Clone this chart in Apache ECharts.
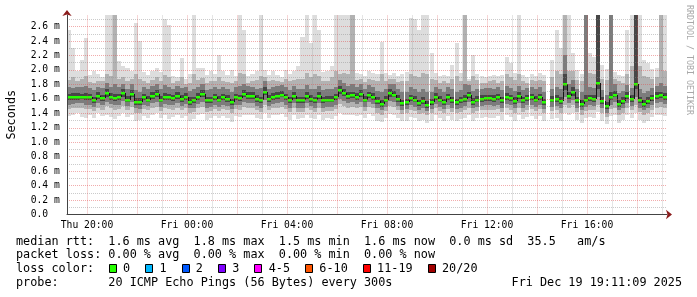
<!DOCTYPE html>
<html><head><meta charset="utf-8">
<script src="https://cdn.jsdelivr.net/npm/echarts@6/dist/echarts.min.js"></script>
<style>html,body{margin:0;padding:0;background:#fff}#c{width:697px;height:297px}</style>
</head><body><div id="c"></div>
<script>
// time axis: hours since Thu 00:00, one step = 10 minutes
const START_HOUR = 19.2;
const STEP_HOURS = 1 / 6;
const Y_MAX = 2.76;

// median rtt (ms) per step
const median = [
1.62,1.63,1.63,1.63,1.63,1.62,1.58,1.64,1.61,1.68,
1.63,1.61,1.62,1.68,1.59,1.67,1.56,1.55,1.62,1.59,
1.64,1.67,1.59,1.63,1.62,1.61,1.64,1.60,1.63,1.56,
1.58,1.63,1.67,1.58,1.58,1.62,1.59,1.62,1.60,1.55,
1.62,1.61,1.67,1.64,1.64,1.60,1.58,1.70,1.60,1.63,
1.64,1.66,1.62,1.58,1.64,1.58,1.58,1.64,1.60,1.58,
1.64,1.58,1.59,1.59,1.62,1.72,1.68,1.64,1.65,1.63,
1.67,1.59,1.65,1.63,1.57,1.53,1.59,1.68,1.66,1.60,
1.54,1.55,1.61,1.59,1.54,1.57,1.52,1.55,1.63,1.59,
1.55,1.62,1.58,1.55,1.58,1.60,1.65,1.56,1.59,1.60,
1.61,1.61,1.60,1.62,1.58,1.63,1.61,1.57,1.64,1.58,
1.61,1.62,1.59,1.62,1.55,null,1.59,1.60,1.57,1.80,
1.64,1.70,1.58,1.53,1.59,1.61,1.60,1.82,1.57,1.50,
1.62,1.66,1.53,1.57,1.64,1.60,1.81,1.58,1.53,1.57,
1.61,1.64,1.65,1.63];

// smoke: lowest / highest ping
const low1 = [
1.36,1.38,1.40,1.35,1.33,1.37,1.34,1.40,1.36,1.38,
1.35,1.32,1.36,1.40,1.35,1.37,1.30,1.31,1.36,1.34,
1.38,1.40,1.33,1.37,1.32,1.35,1.38,1.33,1.36,1.30,
1.32,1.37,1.39,1.31,1.34,1.36,1.33,1.36,1.34,1.28,
1.36,1.35,1.38,1.37,1.38,1.33,1.32,1.40,1.34,1.37,
1.38,1.39,1.35,1.31,1.38,1.32,1.33,1.37,1.33,1.32,
1.38,1.31,1.33,1.32,1.36,1.40,1.38,1.37,1.38,1.36,
1.38,1.33,1.39,1.36,1.30,1.28,1.33,1.39,1.38,1.33,
1.29,1.30,1.35,1.33,1.29,1.31,1.27,1.30,1.37,1.33,
1.30,1.36,1.31,1.30,1.32,1.33,1.38,1.30,1.33,1.34,
1.35,1.34,1.33,1.36,1.31,1.37,1.35,1.30,1.38,1.32,
1.35,1.36,1.32,1.36,1.30,null,1.32,1.34,1.30,1.40,
1.37,1.40,1.31,1.27,1.33,1.35,1.33,1.42,1.30,1.25,
1.36,1.38,1.27,1.31,1.37,1.33,1.40,1.31,1.27,1.30,
1.35,1.38,1.37,1.36];
const high1 = [
2.55,2.30,1.98,2.14,2.44,1.93,1.98,1.95,1.90,2.76,
2.76,2.76,2.12,2.05,2.02,1.98,2.65,2.40,1.97,1.93,
1.98,2.03,1.97,2.70,2.62,1.91,1.90,2.16,1.88,1.95,
2.76,2.03,2.03,1.93,1.99,1.95,2.20,1.99,1.93,2.00,
1.92,2.76,2.55,1.91,1.95,1.98,2.76,2.00,1.93,1.99,
1.93,1.90,2.00,1.95,1.98,2.05,2.45,2.76,2.37,2.76,
2.55,1.97,1.98,2.05,2.76,2.76,2.76,2.76,2.76,1.96,
1.95,1.91,1.99,1.96,1.95,2.38,1.96,1.93,1.96,1.91,
1.95,1.97,2.72,2.70,2.55,2.76,2.76,2.23,1.96,1.91,
1.93,1.91,2.07,2.37,1.96,2.76,1.88,2.21,1.95,1.91,
1.90,1.91,1.93,1.91,1.93,2.18,2.10,1.96,2.76,1.93,
1.90,1.95,1.92,1.96,1.93,null,2.14,2.55,2.30,2.76,
2.76,2.23,2.00,1.95,2.76,2.23,2.18,2.76,2.07,2.01,
2.76,1.97,1.93,1.91,2.55,2.76,2.76,2.76,2.14,2.09,
2.01,2.02,2.76,2.76];
// smoke: 3rd lowest / 3rd highest ping
const low2 = [
1.46,1.47,1.48,1.47,1.46,1.46,1.43,1.48,1.45,1.50,
1.47,1.45,1.46,1.50,1.44,1.49,1.41,1.40,1.46,1.44,
1.48,1.49,1.43,1.47,1.46,1.45,1.48,1.44,1.47,1.41,
1.42,1.47,1.49,1.42,1.43,1.46,1.43,1.46,1.44,1.40,
1.46,1.45,1.49,1.48,1.48,1.44,1.42,1.52,1.44,1.47,
1.48,1.49,1.46,1.42,1.48,1.42,1.42,1.48,1.44,1.42,
1.48,1.42,1.43,1.43,1.46,1.53,1.50,1.48,1.49,1.47,
1.49,1.43,1.49,1.47,1.41,1.38,1.43,1.50,1.49,1.44,
1.39,1.40,1.45,1.43,1.39,1.41,1.37,1.40,1.47,1.43,
1.40,1.46,1.42,1.40,1.42,1.44,1.48,1.41,1.43,1.44,
1.45,1.45,1.44,1.46,1.42,1.47,1.45,1.41,1.48,1.42,
1.45,1.46,1.43,1.46,1.40,null,1.43,1.44,1.41,1.52,
1.48,1.51,1.42,1.38,1.43,1.45,1.44,1.52,1.41,1.35,
1.46,1.48,1.38,1.41,1.48,1.44,1.52,1.42,1.38,1.41,
1.45,1.48,1.49,1.47];
const high2 = [
1.86,1.90,1.84,1.88,1.92,1.83,1.82,1.85,1.84,1.95,
1.92,2.76,1.88,1.90,1.84,1.87,1.95,1.88,1.85,1.82,
1.86,1.90,1.84,1.93,1.90,1.82,1.84,1.90,1.80,1.82,
1.95,1.86,1.89,1.82,1.85,1.84,1.90,1.85,1.83,1.82,
1.84,1.96,1.94,1.82,1.85,1.86,1.92,1.90,1.84,1.86,
1.84,1.83,1.87,1.85,1.86,1.88,1.87,1.96,1.90,1.94,
1.92,1.84,1.85,1.90,1.98,1.95,1.96,1.94,2.76,1.86,
1.88,1.83,1.87,1.86,1.84,1.95,1.84,1.88,1.87,1.83,
1.84,1.85,1.95,1.92,1.90,1.96,1.95,1.88,1.86,1.82,
1.84,1.82,1.88,1.92,1.84,2.76,1.84,1.92,1.86,1.82,
1.82,1.84,1.86,1.82,1.85,1.94,1.90,1.86,1.95,1.84,
1.82,1.86,1.84,1.86,1.84,null,1.90,1.98,1.94,2.76,
1.98,1.98,1.86,1.84,2.76,1.96,1.94,2.76,1.88,1.86,
2.76,1.88,1.84,1.82,1.95,2.05,2.76,2.05,1.92,1.90,
1.88,1.90,2.76,1.98];
// smoke: 6th lowest / 6th highest ping
const low3 = [
1.52,1.53,1.54,1.54,1.52,1.52,1.49,1.54,1.51,1.56,
1.53,1.51,1.52,1.57,1.50,1.56,1.47,1.46,1.52,1.50,
1.54,1.56,1.49,1.53,1.52,1.51,1.54,1.50,1.53,1.47,
1.48,1.53,1.56,1.48,1.49,1.52,1.49,1.52,1.50,1.46,
1.52,1.51,1.56,1.54,1.54,1.50,1.48,1.59,1.50,1.53,
1.54,1.55,1.52,1.48,1.54,1.48,1.48,1.54,1.50,1.48,
1.54,1.48,1.49,1.49,1.52,1.60,1.57,1.54,1.55,1.53,
1.56,1.49,1.55,1.53,1.47,1.44,1.49,1.57,1.56,1.50,
1.45,1.46,1.51,1.49,1.45,1.47,1.43,1.46,1.53,1.49,
1.46,1.52,1.48,1.46,1.48,1.50,1.55,1.47,1.49,1.50,
1.51,1.51,1.50,1.52,1.48,1.53,1.51,1.47,1.54,1.48,
1.51,1.52,1.49,1.52,1.46,null,1.49,1.50,1.47,1.62,
1.54,1.58,1.48,1.44,1.49,1.51,1.50,1.62,1.47,1.41,
1.52,1.55,1.44,1.47,1.54,1.50,1.62,1.48,1.44,1.47,
1.51,1.54,1.55,1.53];
const high3 = [
1.76,1.75,1.77,1.76,1.78,1.75,1.72,1.77,1.75,1.82,
1.77,1.80,1.76,1.81,1.73,1.80,1.72,1.70,1.76,1.73,
1.78,1.80,1.73,1.79,1.77,1.74,1.78,1.75,1.76,1.71,
1.74,1.76,1.80,1.72,1.73,1.76,1.74,1.76,1.74,1.70,
1.76,1.78,1.81,1.78,1.77,1.74,1.75,1.84,1.74,1.77,
1.78,1.79,1.76,1.72,1.78,1.73,1.74,1.79,1.74,1.74,
1.78,1.72,1.73,1.74,1.76,1.86,1.82,1.78,1.80,1.77,
1.80,1.73,1.79,1.77,1.71,1.70,1.73,1.81,1.80,1.74,
1.69,1.70,1.76,1.74,1.69,1.73,1.69,1.70,1.77,1.73,
1.69,1.76,1.73,1.70,1.72,1.80,1.79,1.71,1.73,1.74,
1.75,1.75,1.74,1.76,1.72,1.78,1.75,1.71,1.78,1.72,
1.75,1.76,1.73,1.76,1.70,null,1.74,1.76,1.74,2.20,
1.80,1.86,1.74,1.69,2.76,1.76,1.75,2.76,1.72,1.66,
2.76,1.80,1.68,1.71,1.79,1.75,2.76,1.73,1.68,1.71,
1.75,1.78,1.82,1.78];
// smoke: 9th lowest / 9th highest ping
const low4 = [
1.58,1.59,1.59,1.60,1.59,1.58,1.54,1.60,1.57,1.63,
1.59,1.57,1.58,1.63,1.55,1.62,1.52,1.51,1.58,1.55,
1.60,1.62,1.55,1.59,1.58,1.57,1.60,1.56,1.59,1.52,
1.54,1.59,1.62,1.54,1.54,1.58,1.55,1.58,1.56,1.51,
1.58,1.57,1.62,1.60,1.60,1.56,1.54,1.65,1.56,1.59,
1.60,1.62,1.58,1.54,1.60,1.54,1.54,1.60,1.56,1.54,
1.60,1.54,1.55,1.55,1.58,1.67,1.64,1.60,1.61,1.59,
1.63,1.55,1.61,1.59,1.53,1.49,1.55,1.63,1.62,1.56,
1.50,1.51,1.57,1.55,1.50,1.53,1.48,1.51,1.59,1.55,
1.51,1.58,1.54,1.51,1.54,1.56,1.61,1.52,1.55,1.56,
1.57,1.57,1.56,1.58,1.54,1.59,1.57,1.53,1.60,1.54,
1.57,1.58,1.55,1.58,1.51,null,1.55,1.56,1.53,1.72,
1.60,1.64,1.54,1.49,1.55,1.57,1.56,1.74,1.53,1.46,
1.58,1.62,1.49,1.53,1.60,1.56,1.73,1.54,1.49,1.53,
1.57,1.60,1.61,1.59];
const high4 = [
1.67,1.68,1.68,1.67,1.68,1.67,1.63,1.69,1.66,1.73,
1.68,1.67,1.67,1.73,1.64,1.72,1.61,1.61,1.67,1.64,
1.69,1.72,1.64,1.68,1.67,1.66,1.69,1.65,1.68,1.62,
1.63,1.68,1.72,1.63,1.63,1.67,1.64,1.67,1.65,1.60,
1.67,1.66,1.72,1.69,1.69,1.65,1.63,1.76,1.65,1.68,
1.69,1.71,1.67,1.63,1.69,1.63,1.63,1.69,1.65,1.63,
1.69,1.63,1.64,1.64,1.67,1.78,1.73,1.69,1.70,1.68,
1.72,1.64,1.70,1.68,1.62,1.58,1.64,1.73,1.71,1.65,
1.59,1.60,1.66,1.64,1.59,1.62,1.57,1.60,1.68,1.64,
1.60,1.67,1.63,1.60,1.63,1.66,1.70,1.61,1.64,1.65,
1.66,1.66,1.65,1.67,1.63,1.68,1.66,1.62,1.69,1.63,
1.66,1.67,1.64,1.67,1.60,null,1.64,1.65,1.62,1.95,
1.69,1.76,1.63,1.58,1.66,1.66,1.65,2.76,1.62,1.55,
1.70,1.71,1.58,1.62,1.69,1.65,2.76,1.63,1.58,1.62,
1.66,1.69,1.70,1.68];

// axis ticks / grid (hours since Thu 00:00, ms)
const xLabelValues = [20, 24, 28, 32, 36, 40];
const xLabelText = ['Thu 20:00', 'Fri 00:00', 'Fri 04:00', 'Fri 08:00', 'Fri 12:00', 'Fri 16:00'];
const xMajorGrid = [20, 22, 24, 26, 28, 30, 32, 34, 36, 38, 40, 42];
const xMinorGrid = [21, 23, 25, 27, 29, 31, 33, 35, 37, 39, 41, 43];
const yMajorGrid = [0.2, 0.4, 0.6, 0.8, 1.0, 1.2, 1.4, 1.6, 1.8, 2.0, 2.2, 2.4, 2.6];
const yMinorGrid = [0.1, 0.3, 0.5, 0.7, 0.9, 1.1, 1.3, 1.5, 1.7, 1.9, 2.1, 2.3, 2.5, 2.7];

// legend texts
const statsRtt = 'median rtt:  1.6 ms avg  1.8 ms max  1.5 ms min  1.6 ms now  0.0 ms sd  35.5   am/s';
const statsLoss = 'packet loss: 0.00 % avg  0.00 % max  0.00 % min  0.00 % now';
const lossLabels = ['0', '1', '2', '3', '4-5', '6-10', '11-19', '20/20'];
const lossColors = ['#26ff00', '#00b8ff', '#0059ff', '#7e00ff', '#ff00ff', '#ff5500', '#ff0000', '#a00000'];
const probeText = 'probe:       20 ICMP Echo Pings (56 Bytes) every 300s';
const dateText = 'Fri Dec 19 19:11:09 2025';

const MONO = 'DejaVu Sans Mono';
const bandColors = ['#dddddd', '#b2b2b2', '#7c7c7c', '#474747'];
const bandLow = [low1, low2, low3, low4];
const bandHigh = [high1, high2, high3, high4];

const rows = median.map((m, i) => {
  const r = [START_HOUR + i * STEP_HOURS, m];
  for (let b = 0; b < 4; b++) { r.push(bandLow[b][i], bandHigh[b][i]); }
  return r;
});

function renderSmoke(params, api) {
  const i = params.dataIndex;
  const t = api.value(0);
  const med = api.value(1);
  if (med == null || isNaN(med)) return null;
  const xa = Math.round(api.coord([t, 0])[0]);
  const xb = Math.round(api.coord([t + STEP_HOURS, 0])[0]);
  const children = [];
  for (let b = 0; b < 4; b++) {
    const lo = api.value(2 + 2 * b), hi = api.value(3 + 2 * b);
    const yt = Math.round(api.coord([t, hi])[1]);
    const yb = Math.round(api.coord([t, lo])[1]);
    children.push({ type: 'rect', shape: { x: xa, y: yt, width: xb - xa, height: yb - yt }, style: { fill: bandColors[b] } });
  }
  const ym = api.coord([t, med])[1];
  const prev = i > 0 ? median[i - 1] : null;
  if (prev != null) {
    const yp = api.coord([t, prev])[1];
    children.push({ type: 'line', shape: { x1: xa + 0.5, y1: Math.round(yp), x2: xa + 0.5, y2: Math.round(ym) }, style: { stroke: '#151515', lineWidth: 1 } });
  }
  children.push({ type: 'rect', shape: { x: xa, y: Math.round(ym) - 1, width: xb - xa, height: 2.5 }, style: { fill: lossColors[0] } });
  return { type: 'group', children };
}

const majorStyle = { color: 'rgba(225,70,70,0.45)', type: [1, 1], width: 1 };
const minorStyle = { color: 'rgba(140,140,140,0.45)', type: [1, 1], width: 1 };
const gridLines = [].concat(
  yMinorGrid.map(v => ({ yAxis: v, lineStyle: minorStyle })),
  yMajorGrid.map(v => ({ yAxis: v, lineStyle: majorStyle })),
  xMinorGrid.map(v => ({ xAxis: v, lineStyle: minorStyle })),
  xMajorGrid.map(v => ({ xAxis: v, lineStyle: majorStyle }))
);

// legend graphics
const graphics = [];
const LX = 16, CW = 7.12;
graphics.push({ type: 'text', x: LX, y: 241.5, style: { text: statsRtt, fontFamily: MONO, fontSize: 11.8, fill: '#000', verticalAlign: 'middle' } });
graphics.push({ type: 'text', x: LX, y: 255.3, style: { text: statsLoss, fontFamily: MONO, fontSize: 11.8, fill: '#000', verticalAlign: 'middle' } });
graphics.push({ type: 'text', x: LX, y: 269, style: { text: 'loss color:', fontFamily: MONO, fontSize: 11.8, fill: '#000', verticalAlign: 'middle' } });
let lx = 108.7;
lossLabels.forEach((lab, k) => {
  graphics.push({ type: 'rect', shape: { x: Math.round(lx) + 0.5, y: 264.5, width: 7, height: 8 }, style: { fill: lossColors[k], stroke: '#000', lineWidth: 1 } });
  graphics.push({ type: 'text', x: lx + 14.3, y: 269, style: { text: lab, fontFamily: MONO, fontSize: 11.8, fill: '#000', verticalAlign: 'middle' } });
  lx += 14.3 + lab.length * CW + 15;
});
graphics.push({ type: 'text', x: LX, y: 282.7, style: { text: probeText, fontFamily: MONO, fontSize: 11.8, fill: '#000', verticalAlign: 'middle' } });
graphics.push({ type: 'text', x: 682, y: 282.7, style: { text: dateText, fontFamily: MONO, fontSize: 11.8, fill: '#000', verticalAlign: 'middle', align: 'right' } });
graphics.push({ type: 'text', x: 689, y: 5, rotation: -Math.PI / 2, style: { text: 'RRDTOOL / TOBI OETIKER', fontFamily: MONO, fontSize: 8.3, fill: '#a8a8a8', verticalAlign: 'middle', align: 'left' } });

const ARROW = '#8b1c1c';
const chart = echarts.init(document.getElementById('c'), null, { renderer: 'canvas' });
chart.setOption({
  animation: false,
  backgroundColor: '#fff',
  grid: { left: 67, right: 30, top: 15, bottom: 82.5, containLabel: false, outerBoundsMode: 'none' },
  xAxis: [{
    type: 'value', min: START_HOUR, max: START_HOUR + 24, z: 10, position: 'bottom',
    axisLine: { show: true, onZero: false, lineStyle: { color: '#444', width: 1 } },
    axisTick: { show: false },
    splitLine: { show: false },
    axisLabel: {
      customValues: xLabelValues,
      formatter: v => { const k = xLabelValues.indexOf(Math.round(v)); return k >= 0 ? xLabelText[k] : ''; },
      fontFamily: MONO, fontSize: 9.7, color: '#000', margin: 6
    }
  }, {
    type: 'value', min: START_HOUR, max: START_HOUR + 24, z: 11, position: 'bottom', offset: 0,
    axisLine: { show: true, onZero: false, lineStyle: { color: ARROW, width: 0 }, symbol: ['none', 'arrow'], symbolSize: [7, 6], symbolOffset: [0, 5] },
    axisTick: { show: false }, splitLine: { show: false }, axisLabel: { show: false }
  }],
  yAxis: [{
    type: 'value', min: 0, max: Y_MAX, interval: 0.2, z: 10, position: 'left',
    name: 'Seconds', nameLocation: 'middle', nameRotate: 90, nameGap: 49,
    nameTextStyle: { fontFamily: MONO, fontSize: 11.8, color: '#000' },
    axisLine: { show: true, onZero: false, lineStyle: { color: '#444', width: 1 } },
    axisTick: { show: false },
    splitLine: { show: false },
    axisLabel: {
      showMaxLabel: false, align: 'left', margin: 36.3, padding: [4, 0, 0, 0],
      formatter: v => v === 0 ? '0.0' : v.toFixed(1) + ' m',
      fontFamily: MONO, fontSize: 9.7, color: '#000'
    }
  }, {
    type: 'value', min: 0, max: Y_MAX, z: 11, position: 'left', offset: 0,
    axisLine: { show: true, onZero: false, lineStyle: { color: ARROW, width: 0 }, symbol: ['none', 'arrow'], symbolSize: [7, 6], symbolOffset: [0, 5] },
    axisTick: { show: false }, splitLine: { show: false }, axisLabel: { show: false }
  }],
  series: [
    {
      type: 'custom', name: 'smoke', clip: true, z: 2,
      renderItem: renderSmoke,
      encode: { x: 0, y: 1 },
      data: rows
    },
    {
      type: 'line', name: 'grid', data: [], z: 5,
      markLine: { silent: true, symbol: ['none', 'none'], label: { show: false }, animation: false, data: gridLines }
    }
  ],
  graphic: graphics
});
</script>
</body></html>
